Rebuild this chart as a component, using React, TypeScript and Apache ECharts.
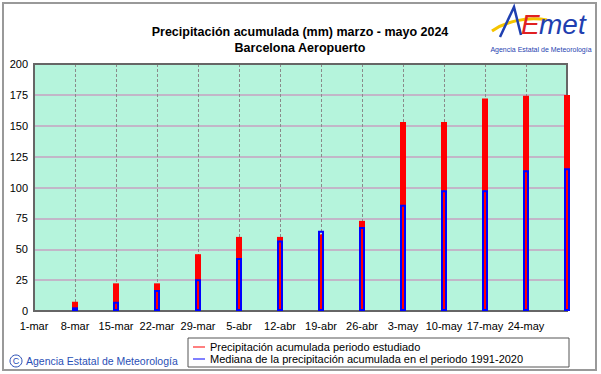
import React, { useEffect, useRef } from "react";
import * as echarts from "echarts";

const xLabels = ["1-mar", "8-mar", "15-mar", "22-mar", "29-mar", "5-abr", "12-abr", "19-abr", "26-abr", "3-may", "10-may", "17-may", "24-may", ""];
const precipStudied = [0, 7.5, 22.4, 22.4, 46, 60, 60, 62, 73, 153, 153, 172, 174.3, 175];
const precipMedian = [0, 3, 7.5, 17, 25.7, 43, 57, 65, 68, 86, 97.7, 97.7, 114, 115.5];
const yTicks = { min: 0, max: 200, interval: 25 };
const seriesNames = ["Precipitación acumulada periodo estudiado", "Mediana de la precipitación acumulada en el periodo 1991-2020"];
const titleLines = ["Precipitación acumulada (mm) marzo - mayo 2024", "Barcelona Aeropuerto"];

const FONT = "'Liberation Sans', Arial, sans-serif";

export default function App() {
  const ref = useRef<HTMLDivElement>(null);
  useEffect(() => {
    if (!ref.current) return;
    const chart = echarts.init(ref.current, null, { renderer: "svg" });
    const n = xLabels.length;
    const G = { left: 34, right: 34, top: 64, bottom: 63 };
    chart.setOption({
      animation: false,
      backgroundColor: "#ffffff",
      textStyle: { fontFamily: FONT },
      title: {
        text: titleLines.join("\n"),
        left: 295,
        top: 19,
        textAlign: "center",
        textStyle: { fontFamily: FONT, fontSize: 12.5, fontWeight: "bold", color: "#000", lineHeight: 16 },
      },
      grid: {
        ...G,
        show: true, backgroundColor: "#b5f4dc", borderWidth: 0,
      },
      legend: {
        orient: "vertical",
        left: 193,
        top: 341,
        padding: 0,
        itemGap: 0,
        itemWidth: 12,
        itemHeight: 1,
        icon: "rect",
        selectedMode: false,
        textStyle: { fontFamily: FONT, fontSize: 11, color: "#000", lineHeight: 12 },
        data: [
          { name: seriesNames[0], itemStyle: { color: "#ff0000", borderWidth: 0 } },
          { name: seriesNames[1], itemStyle: { color: "#0000ff", borderWidth: 0 } },
        ],
      },
      xAxis: {
        type: "value", min: 0, max: n - 1, interval: 1,
        axisLine: { show: true, lineStyle: { color: "#666", width: 2 } },
        axisTick: { show: false },
        axisLabel: {
          formatter: (v: number) => xLabels[v] ?? "",
          fontFamily: FONT, fontSize: 11, color: "#000", margin: 9,
          showMinLabel: true, showMaxLabel: true,
        },
        splitLine: { show: true, lineStyle: { color: "#8a8a8a", type: [3, 2], width: 1 } },
      },
      yAxis: {
        type: "value", min: yTicks.min, max: yTicks.max, interval: yTicks.interval,
        axisLine: { show: true, lineStyle: { color: "#666", width: 2 } },
        axisTick: { show: false },
        axisLabel: { fontFamily: FONT, fontSize: 11, color: "#000", margin: 6 },
        splitLine: { show: true, lineStyle: { color: "#c2b6c8", width: 2 } },
      },
      series: [
        {
          name: seriesNames[0], type: "bar", barWidth: 6, barGap: "-100%",
          itemStyle: { color: "#ff0000" },
          data: precipStudied.map((v, i) => [i, v]),
          z: 3,
        },
        {
          name: seriesNames[1], type: "bar", barWidth: 6, barGap: "-100%",
          itemStyle: { color: "rgba(0,0,0,0)", borderColor: "#0000ff", borderWidth: 2 },
          data: precipMedian.map((v, i) => [i, v > 0 ? v : "-"]),
          z: 4,
        },
      ],
      graphic: [
        { type: "rect", z: 1, shape: { x: G.left, y: G.top, width: 601 - G.left - G.right, height: 374 - G.top - G.bottom }, style: { fill: "none", stroke: "#666", lineWidth: 2 }, silent: true },
        { type: "rect", shape: { x: 3, y: 3, width: 593, height: 367 }, style: { fill: "none", stroke: "#999", lineWidth: 2 }, silent: true },
        { type: "rect", shape: { x: 188, y: 338, width: 381, height: 29 }, style: { fill: "none", stroke: "#555", lineWidth: 1 }, silent: true },
        { type: "circle", shape: { cx: 16, cy: 361, r: 6 }, style: { fill: "none", stroke: "#2a4fb5", lineWidth: 1 }, silent: true },
        { type: "text", x: 16, y: 361, style: { text: "C", fontSize: 9, fontFamily: FONT, fill: "#2a4fb5", align: "center", verticalAlign: "middle" } },
        { type: "text", x: 26, y: 361, style: { text: "Agencia Estatal de Meteorología", fontSize: 10.5, fontFamily: FONT, fill: "#2a4fb5", align: "left", verticalAlign: "middle" } },
        // AEMET logo
        { type: "bezierCurve", shape: { x1: 492, y1: 31, x2: 547, y2: 20, cpx1: 505, cpy1: 22, cpx2: 527, cpy2: 16 }, style: { stroke: "#f5c400", lineWidth: 3, fill: "none" } },
        { type: "polyline", shape: { points: [[500, 37], [514, 7], [521, 35]] }, style: { stroke: "#1f3fb0", lineWidth: 2.5, fill: "none" } },
        { type: "text", x: 521, y: 38, style: { text: "E", fontSize: 28, fontStyle: "italic", fontFamily: FONT, fill: "#e02020", align: "left", verticalAlign: "bottom" } },
        { type: "text", x: 539, y: 38, style: { text: "met", fontSize: 28, fontStyle: "italic", fontFamily: FONT, fill: "#1f3fb0", align: "left", verticalAlign: "bottom" } },
        { type: "text", x: 541, y: 49, style: { text: "Agencia Estatal de Meteorología", fontSize: 7, fontFamily: FONT, fill: "#1f3fb0", align: "center", verticalAlign: "middle" } },
      ],
    });
    return () => chart.dispose();
  }, []);
  return <div ref={ref} style={{ position: "absolute", left: 0, top: 0, width: 601, height: 374 }} />;
}
